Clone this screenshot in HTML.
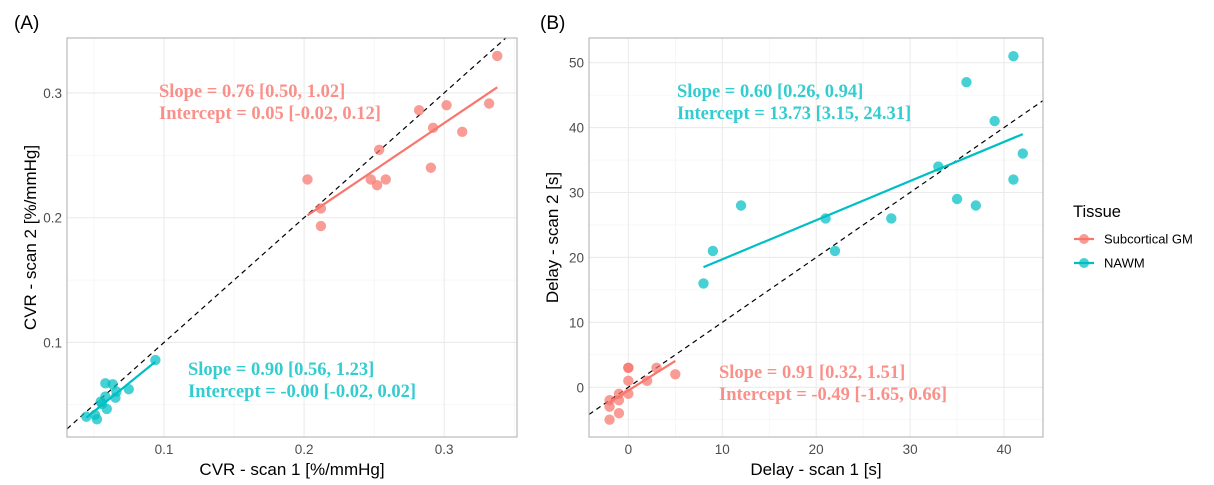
<!DOCTYPE html>
<html><head><meta charset="utf-8">
<style>
body{margin:0;background:#fff;width:1214px;height:485px;overflow:hidden;font-family:"Liberation Sans",sans-serif;}
svg{display:block}
</style></head>
<body>
<svg id="chart" width="1214" height="485" xmlns="http://www.w3.org/2000/svg"></svg>
<script>
// Panel A data
const aRedX=[0.2024,0.212,0.212,0.2476,0.2521,0.2536,0.2583,0.2821,0.2905,0.2921,0.3017,0.3129,0.3321,0.3379];
const aRedY=[0.2306,0.2074,0.1933,0.2306,0.226,0.2544,0.2306,0.2861,0.24,0.272,0.2901,0.2688,0.2915,0.3296];
const aTealX=[0.0445,0.0521,0.0507,0.0581,0.0633,0.0581,0.0557,0.0591,0.0653,0.066,0.0748,0.0938,0.0548];
const aTealY=[0.0405,0.0384,0.042,0.0672,0.0664,0.0566,0.0507,0.0467,0.0557,0.0606,0.0625,0.0859,0.0525];
const aRedFit=[[0.2024,0.2019],[0.3379,0.3045]];
const aTealFit=[[0.0445,0.0397],[0.0938,0.0845]];
const aTicks=[0.1,0.2,0.3];
const aTickLabels=["0.1","0.2","0.3"];
// Panel B data
const bTealX=[8,9,12,21,22,28,33,35,36,37,39,41,41,42];
const bTealY=[16,21,28,26,21,26,34,29,47,28,41,51,32,36];
const bRedX=[-2,-2,-2,-1,-1,-1,0,0,0,0,2,3,5];
const bRedY=[-5,-3,-2,-4,-2,-1,-1,1,3,3,1,3,2];
const bRedFit=[[-2,-2.31],[5,4.06]];
const bTealFit=[[8,18.5],[42,39]];
const bXTicks=[0,10,20,30,40];
const bYTicks=[0,10,20,30,40,50];

const NS="http://www.w3.org/2000/svg";
const svg=document.getElementById('chart');
function el(tag,attrs,parent){const e=document.createElementNS(NS,tag);for(const k in attrs)e.setAttribute(k,attrs[k]);(parent||svg).appendChild(e);return e;}
const RED="#F8766D",TEAL="#00BFC4";

function panel(p){
  const g=el('g',{});
  
  
  const sx=v=>p.x0+(v-p.xmin)/(p.xmax-p.xmin)*(p.x1-p.x0);
  const sy=v=>p.y1-(v-p.ymin)/(p.ymax-p.ymin)*(p.y1-p.y0);
  p.xMinor.forEach(v=>{const l=el('line',{x1:sx(v),x2:sx(v),y1:p.y0,y2:p.y1,stroke:'#f2f2f2','stroke-width':0.6},g);});
  p.yMinor.forEach(v=>{const l=el('line',{x1:p.x0,x2:p.x1,y1:sy(v),y2:sy(v),stroke:'#f2f2f2','stroke-width':0.6},g);});
  p.xTicks.forEach((v,i)=>{const l=el('line',{x1:sx(v),x2:sx(v),y1:p.y0,y2:p.y1,stroke:'#ebebeb','stroke-width':1.1},g);
    const t=el('text',{x:sx(v),y:p.y1+17,'text-anchor':'middle','font-size':13.5,fill:'#4d4d4d'},g);t.textContent=p.xLabels[i];});
  p.yTicks.forEach((v,i)=>{const l=el('line',{x1:p.x0,x2:p.x1,y1:sy(v),y2:sy(v),stroke:'#ebebeb','stroke-width':1.1},g);
    const t=el('text',{x:p.x0-5,y:sy(v)+5,'text-anchor':'end','font-size':13.5,fill:'#4d4d4d'},g);t.textContent=p.yLabels[i];});
  const lo=Math.max(p.xmin,p.ymin),hi=Math.min(p.xmax,p.ymax);
  const id=el('line',{x1:sx(lo),y1:sy(lo),x2:sx(hi),y2:sy(hi),stroke:'#000','stroke-width':1.2,'stroke-dasharray':'5,4'},g);
  
  p.series.forEach(s=>{
    s.xs.forEach((xv,i)=>{const c=el('circle',{cx:sx(xv),cy:sy(s.ys[i]),r:5.2,fill:s.color,'fill-opacity':0.72},g);});
    const f=el('line',{x1:sx(s.fit[0][0]),y1:sy(s.fit[0][1]),x2:sx(s.fit[1][0]),y2:sy(s.fit[1][1]),stroke:s.color,'stroke-width':2.2},g);
    
  });
  const b=el('rect',{x:p.x0,y:p.y0,width:p.x1-p.x0,height:p.y1-p.y0,fill:'none',stroke:'#b3b3b3','stroke-width':1.1},g);
  
  p.ann.forEach(a=>{a.lines.forEach((ln,i)=>{const t=el('text',{x:a.x,y:a.y+i*22,'font-family':'"Liberation Serif",serif','font-weight':'bold','font-size':18.5,fill:a.color,'fill-opacity':0.8},g);t.textContent=ln;});});
  const xt=el('text',{x:(p.x0+p.x1)/2,y:475,'text-anchor':'middle','font-size':17,fill:'#000'},g);xt.textContent=p.xTitle;
  const yc=(p.y0+p.y1)/2;
  const yt=el('text',{x:p.ytx,y:yc,'text-anchor':'middle','font-size':17,fill:'#000',transform:`rotate(-90 ${p.ytx} ${yc})`},g);yt.textContent=p.yTitle;
  const pl=el('text',{x:p.labelX,y:29,'font-size':19,fill:'#000'},g);pl.textContent=p.label;
}

panel({name:'panel-a',x0:67,x1:517,y0:38,y1:437,xmin:0.0307,xmax:0.352,ymin:0.0242,ymax:0.344,
  xTicks:aTicks,xLabels:aTickLabels,yTicks:aTicks,yLabels:aTickLabels,xMinor:[0.05,0.15,0.25,0.35],yMinor:[0.05,0.15,0.25],
  series:[{key:'subcortical-gm',xs:aRedX,ys:aRedY,fit:aRedFit,color:RED},{key:'nawm',xs:aTealX,ys:aTealY,fit:aTealFit,color:TEAL}],
  ann:[{name:'gm-regression-annotation',x:159,y:97,color:RED,lines:['Slope = 0.76 [0.50, 1.02]','Intercept = 0.05 [-0.02, 0.12]']},
       {name:'nawm-regression-annotation',x:188,y:375,color:TEAL,lines:['Slope = 0.90 [0.56, 1.23]','Intercept = -0.00 [-0.02, 0.02]']}],
  xTitle:'CVR - scan 1 [%/mmHg]',yTitle:'CVR - scan 2 [%/mmHg]',ytx:36,label:'(A)',labelX:14});

panel({name:'panel-b',x0:589,x1:1043,y0:38,y1:437,xmin:-4.19,xmax:44.15,ymin:-7.66,ymax:53.8,
  xTicks:bXTicks,xLabels:bXTicks.map(String),yTicks:bYTicks,yLabels:bYTicks.map(String),xMinor:[5,15,25,35],yMinor:[-5,5,15,25,35,45],
  series:[{key:'subcortical-gm',xs:bRedX,ys:bRedY,fit:bRedFit,color:RED},{key:'nawm',xs:bTealX,ys:bTealY,fit:bTealFit,color:TEAL}],
  ann:[{name:'nawm-regression-annotation',x:677,y:97,color:TEAL,lines:['Slope = 0.60 [0.26, 0.94]','Intercept = 13.73 [3.15, 24.31]']},
       {name:'gm-regression-annotation',x:719,y:378,color:RED,lines:['Slope = 0.91 [0.32, 1.51]','Intercept = -0.49 [-1.65, 0.66]']}],
  xTitle:'Delay - scan 1 [s]',yTitle:'Delay - scan 2 [s]',ytx:558,label:'(B)',labelX:540});

const lg=el('g',{});


const lt=el('text',{x:1073,y:217,'font-size':16.5,fill:'#000'},lg);lt.textContent='Tissue';


[['Subcortical GM',RED,239],['NAWM',TEAL,263]].forEach(([n,c,y])=>{
  const e=el('g',{},lg);
  
  
  el('line',{x1:1074,x2:1094,y1:y,y2:y,stroke:c,'stroke-width':2.2},e);
  el('circle',{cx:1084,cy:y,r:5,fill:c,'fill-opacity':0.72},e);
  const t=el('text',{x:1104,y:y+4.5,'font-size':13,fill:'#000'},e);t.textContent=n;
});
</script>
</body></html>
